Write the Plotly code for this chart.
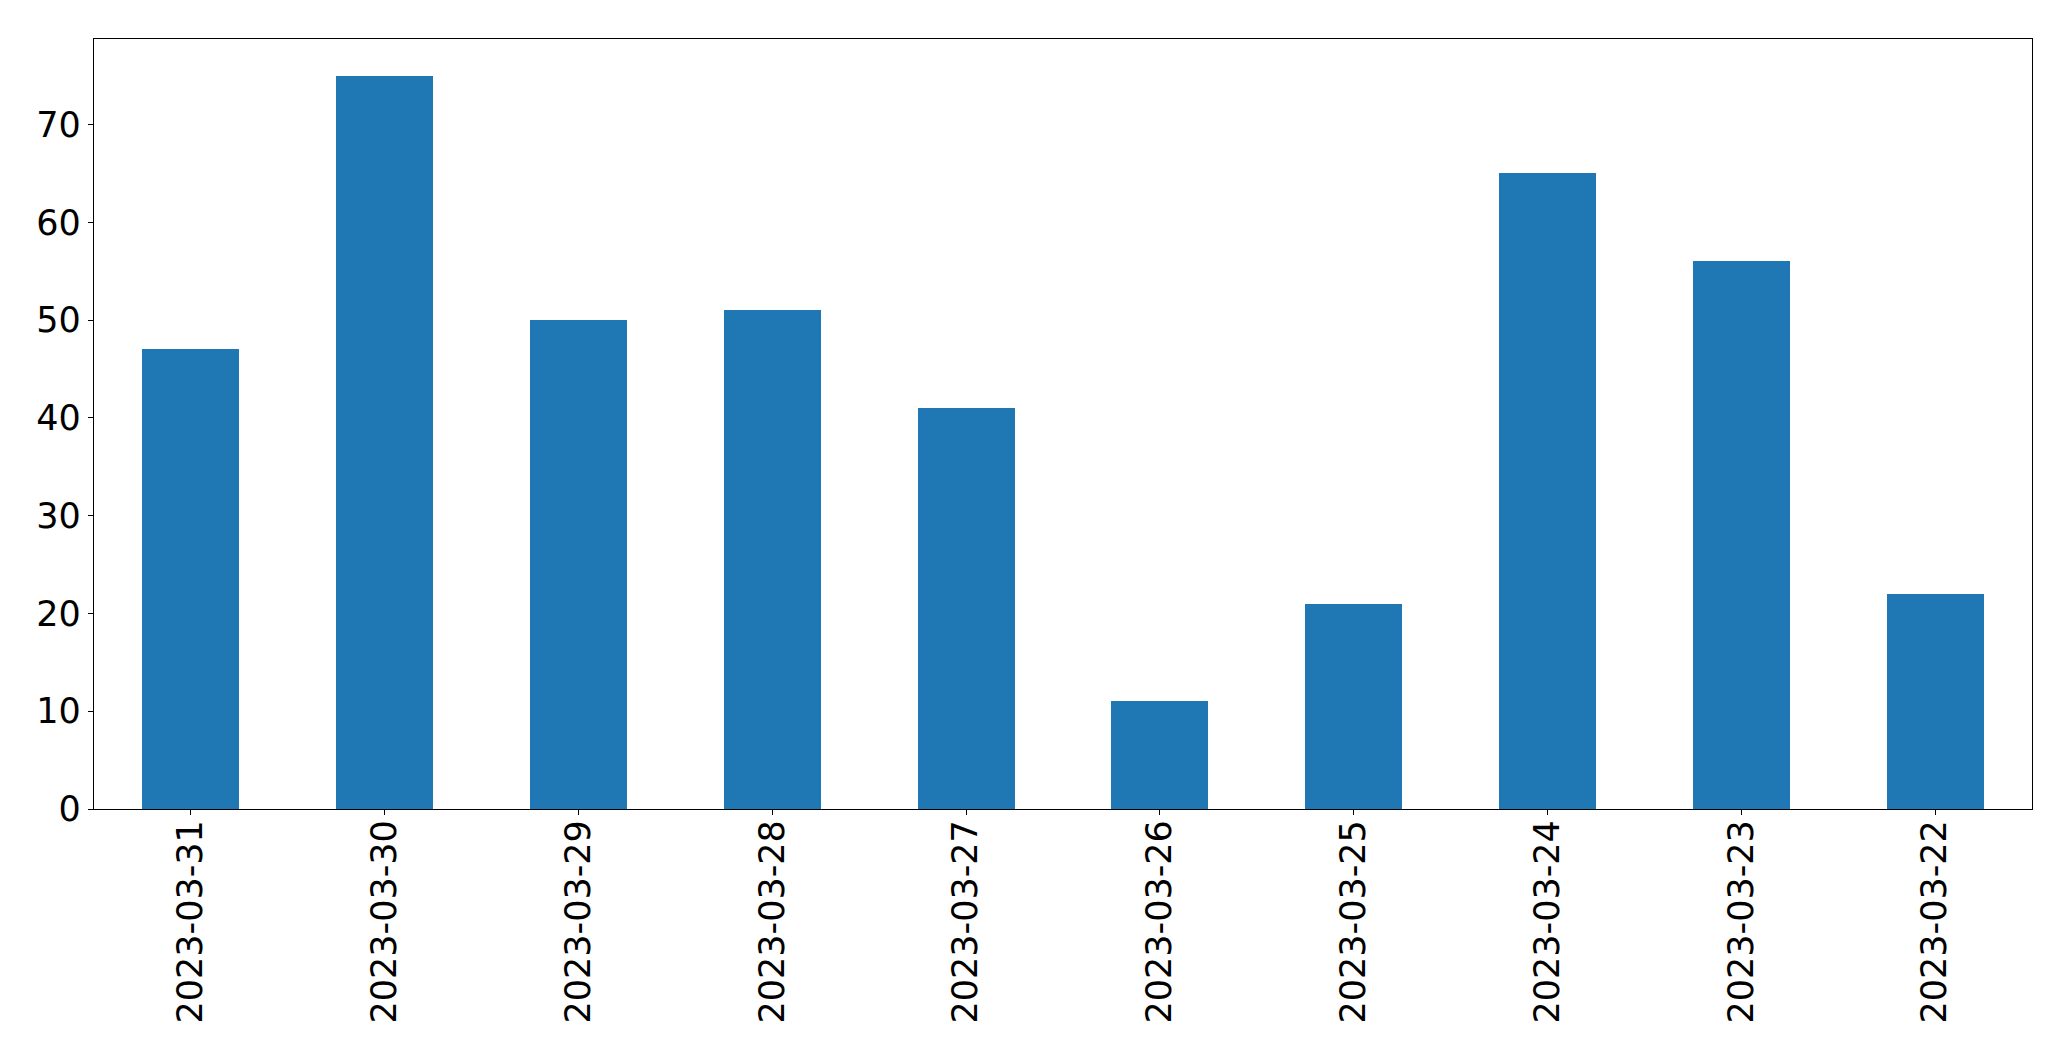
import plotly.graph_objects as go

dates = ["2023-03-31", "2023-03-30", "2023-03-29", "2023-03-28", "2023-03-27",
         "2023-03-26", "2023-03-25", "2023-03-24", "2023-03-23", "2023-03-22"]
values = [47, 75, 50, 51, 41, 11, 21, 65, 56, 22]

fig = go.Figure()
fig.add_trace(go.Bar(x=dates, y=values, marker_color="#1f77b4", marker_line_width=0, width=0.5))

axis_common = dict(showline=True, linecolor="black", linewidth=1.3, mirror=True,
                   ticks="outside", ticklen=5, tickwidth=1.3, tickcolor="black",
                   showgrid=False, zeroline=False,
                   tickfont=dict(family="DejaVu Sans", size=35, color="black"))

fig.update_layout(
    width=2071, height=1061,
    margin=dict(l=94, r=39, t=39, b=252, pad=0),
    paper_bgcolor="white", plot_bgcolor="white",
    showlegend=False,
    bargap=0,
    xaxis=dict(type="category", range=[-0.5, 9.5], tickangle=-90, ticklabelstandoff=-9,
               **axis_common),
    yaxis=dict(range=[0, 78.75], tickvals=[0, 10, 20, 30, 40, 50, 60, 70], **axis_common),
)

fig.write_html("out.html")
